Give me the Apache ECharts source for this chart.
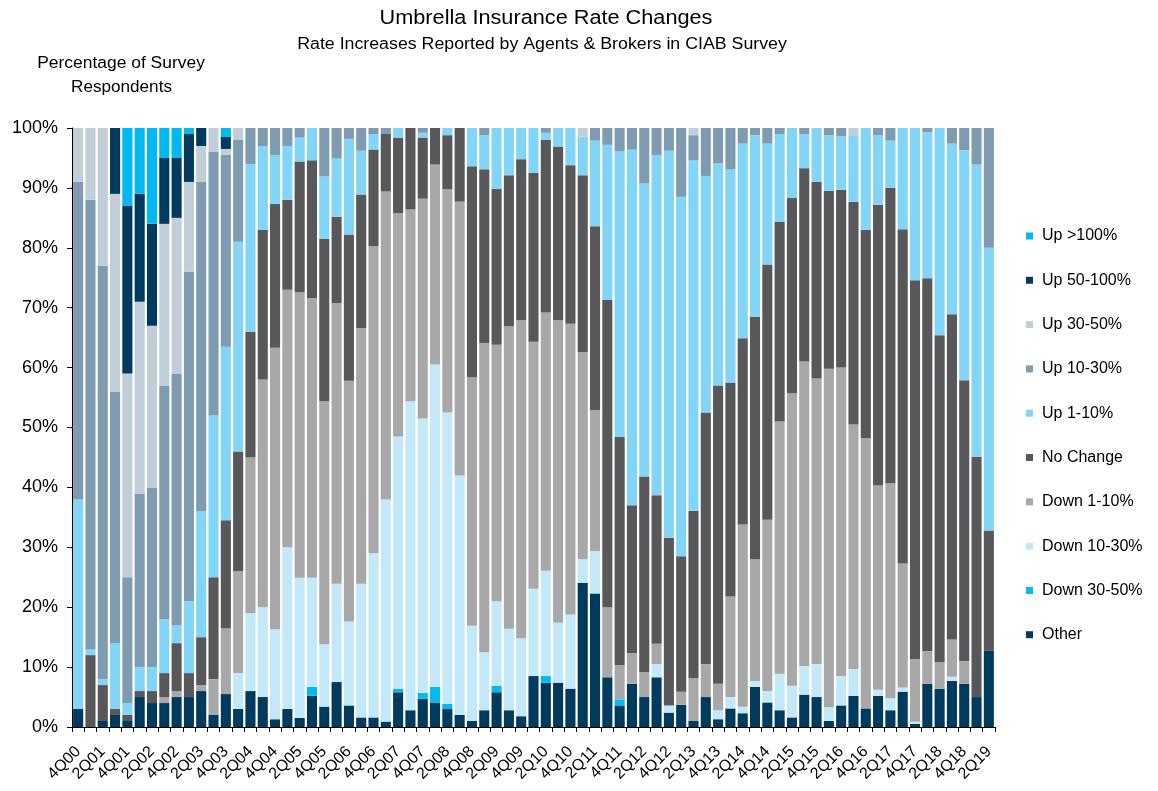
<!DOCTYPE html>
<html>
<head>
<meta charset="utf-8">
<script src="https://cdn.jsdelivr.net/npm/echarts@6/dist/echarts.min.js"></script>
<style>
  html, body { margin: 0; padding: 0; background: #ffffff; }
  #chart { width: 1158px; height: 791px; }
</style>
</head>
<body>
<div id="chart"></div>
<script>
// Survey quarters, 4Q00 through 2Q19
const quarters = (function () {
  const q = ['4Q00'];
  for (let y = 1; y <= 18; y++) {
    const yy = String(y).padStart(2, '0');
    for (let k = 1; k <= 4; k++) q.push(k + 'Q' + yy);
  }
  q.push('1Q19', '2Q19');
  return q;
})();

// Share of respondents (%) in each rate-change bucket, per quarter
const other = [3,0,1,2,1,5,4,4,5,5, 6,2,5.5,3,6,5,1.3,3,1.5,5.2, 3.4,7.5,3.6,1.6,1.6,0.9,5.8,2.8,4.7,4.1, 3,2,1,2.8,5.8,2.8,1.8,8.5,7.4,7.4, 6.4,24.1,22.3,8.3,3.6,7.2,5,8.3,2.4,3.7, 1,5,1.3,3.1,2.3,6.7,4.1,2.8,1.6,5.4, 5,1,3.6,5.2,3.1,5.2,2.8,5.9,0.5,7.2, 6.4,7.7,7.2,5,12.8];
const down3050 = [0,0,0,0,0,0,0,0,0,0, 0,0,0,0,0,0,0,0,0,1.5, 0,0,0,0,0,0,0.6,0,1,2.6, 0.9,0,0,0,1.1,0,0,0,1.1,0, 0,0,0,0,1,0,0,0,0,0, 0,0,0,0,0,0,0,0,0,0, 0,0,0,0,0,0,0,0,0,0, 0,0,0,0,0];
const down1030 = [0,0,0,0,0,0,0,0,0,0, 0,0,0,6,13,15,15,27,23.4,18.2, 10.4,16.4,14,22.3,27.4,37.1,42.1,51.6,45.8,53.8, 48.6,40,15.9,9.7,14.1,13.6,13,14.6,17.6,10, 12.4,3.9,7.1,0,0,0,0,2.2,1.2,0, 0,0,1.5,1.9,1.1,1,1.9,6.1,5.3,4.8, 5.5,2.3,4.9,4.5,0,1,2,0.7,0.4,0, 0,0.7,0,0,0];
const down110 = [0,0,0,0,0,0,0,1,1,0, 1,6,11,17,26,38,47,43,47.7,46.7, 40.6,46.9,40.2,42.7,51.3,51.4,37.3,32,36.7,33.4, 37.3,45.7,41.5,51.6,42.8,50.5,53.1,41.2,43.1,50.5, 48.5,34.6,23.5,11.7,5.7,5.1,4.2,3.4,0,2.2, 7.2,5.5,4.4,16.8,30.4,20.3,28.6,42.1,48.8,50.8, 47.7,56.5,51.5,40.8,45.1,34.1,35.9,20.7,10.4,5.5, 4.4,6.2,3.8,0,0];
const noChange = [0,12,6,1,1,1,2,4,8,4, 8,17,18,20,21,25,24,15,21.8,23, 27.1,14.4,24.4,22.3,16.1,9.6,12.6,13.6,10.2,6.1, 9,12.3,35.2,29,26,25.2,26.9,28.2,28.8,29, 26.5,29.5,30.7,51.3,38.1,24.7,32.6,24.8,28,22.6, 27.9,42,49.8,35.7,31.1,40.5,42.6,33.3,32.6,32.3, 32.8,29.7,29.7,37.2,34.8,46.9,49.3,55.8,63.3,62.2, 54.6,54.3,46.9,40.1,20];
const up110 = [35,1,1,11,2,4,4,9,3,12, 21,27,29,35,28,14,8.2,9,4,5.4, 10.4,9.7,16,7.3,2.6,0,1.6,0,0.8,0, 1.2,0,6.4,5.7,10.2,7.9,5.2,7.5,1.2,3.1, 6.2,6.5,14.3,25.9,47.7,59.4,49,56.8,64.6,60, 58.5,39.5,37.1,35.6,32.5,30.3,20.2,14.7,11.7,5.7, 9,9.3,8.9,11.1,17,11.6,7.9,16.9,25.4,24.4, 34.6,28.5,38.4,48.8,47.2];
const up1030 = [53,75,69,42,21,29,30,39,42,55, 55,44,32,17,6,3,4.5,3,1.6,0, 8.1,5.1,1.8,3.8,1,1,0,0,0.8,0, 0,0,0,1.2,0,0,0,0,0.8,0, 0,0,2.1,2.8,3.9,3.6,9.2,4.5,3.8,11.5, 4.2,8,5.9,6.9,2.6,1.2,2.6,1,0,1, 0,1.2,1.4,0,0,1.2,2.1,0,0,0.7, 0,2.6,3.7,6.1,20];
const up3050 = [9,12,23,33,34,32,27,27,26,15, 6,4,1,2,0,0,0,0,0,0, 0,0,0,0,0,0,0,0,0,0, 0,0,0,0,0,0,0,0,0,0, 0,1.4,0,0,0,0,0,0,0,0, 1.2,0,0,0,0,0,0,0,0,0, 0,0,0,1.2,0,0,0,0,0,0, 0,0,0,0,0];
const up50100 = [0,0,0,11,28,18,17,11,10,8, 3,0,2,0,0,0,0,0,0,0, 0,0,0,0,0,0,0,0,0,0, 0,0,0,0,0,0,0,0,0,0, 0,0,0,0,0,0,0,0,0,0, 0,0,0,0,0,0,0,0,0,0, 0,0,0,0,0,0,0,0,0,0, 0,0,0,0,0];
const up100 = [0,0,0,0,13,11,16,5,5,1, 0,0,1.5,0,0,0,0,0,0,0, 0,0,0,0,0,0,0,0,0,0, 0,0,0,0,0,0,0,0,0,0, 0,0,0,0,0,0,0,0,0,0, 0,0,0,0,0,0,0,0,0,0, 0,0,0,0,0,0,0,0,0,0, 0,0,0,0,0];

// Stack order, bottom to top
const seriesDefs = [
  { name: 'Other',       data: other,    color: '#003A5D' },
  { name: 'Down 30-50%', data: down3050, color: '#00BBF0' },
  { name: 'Down 10-30%', data: down1030, color: '#C3E9F8' },
  { name: 'Down 1-10%',  data: down110,  color: '#A8A8A8' },
  { name: 'No Change',   data: noChange, color: '#58585A' },
  { name: 'Up 1-10%',    data: up110,    color: '#82D5F6' },
  { name: 'Up 10-30%',   data: up1030,   color: '#7F9BB0' },
  { name: 'Up 30-50%',   data: up3050,   color: '#C1CED8' },
  { name: 'Up 50-100%',  data: up50100,  color: '#003A5F' },
  { name: 'Up >100%',    data: up100,    color: '#00B9F1' }
];

const FONT = '"Liberation Sans", Arial, sans-serif';

// Centered text block, slightly widened horizontally
function label(text, cx, cy, size, sx) {
  return {
    type: 'text', x: cx, y: cy, scaleX: sx, scaleY: 1,
    style: { text: text, x: 0, y: 0, align: 'center', verticalAlign: 'middle',
             font: size + 'px ' + FONT, fill: '#000' }
  };
}

const chart = echarts.init(document.getElementById('chart'), null, { renderer: 'canvas' });

chart.setOption({
  animation: false,
  backgroundColor: '#ffffff',
  textStyle: { fontFamily: FONT, color: '#000' },
  graphic: [
    label('Umbrella Insurance Rate Changes', 546, 18, 20, 1.085),
    label('Rate Increases Reported by Agents & Brokers in CIAB Survey', 542, 45, 16, 1.11),
    label('Percentage of Survey', 121, 64, 16, 1.09),
    label('Respondents', 121.5, 88, 16, 1.07)
  ],
  legend: {
    orient: 'vertical',
    left: 1026,
    top: 228,
    padding: 0,
    icon: 'rect',
    itemWidth: 7,
    itemHeight: 7,
    itemGap: 28.3,
    data: seriesDefs.map(s => s.name).reverse(),
    textStyle: { fontFamily: FONT, fontSize: 16, color: '#000', lineHeight: 16, padding: [0, 0, 0, 4] },
    selectedMode: false
  },
  grid: { left: 72, right: 163, top: 128, bottom: 64, containLabel: false },
  xAxis: {
    type: 'category',
    data: quarters,
    axisLine: { lineStyle: { color: '#000', width: 1 } },
    axisTick: { show: true, interval: 0, length: 5, lineStyle: { color: '#000' } },
    axisLabel: { interval: 1, rotate: 45, fontSize: 16, color: '#000', fontFamily: FONT, margin: 22 }
  },
  yAxis: {
    type: 'value',
    min: 0,
    max: 100,
    interval: 10,
    axisLine: { show: true, lineStyle: { color: '#000', width: 1 } },
    axisTick: { show: true, length: 5, lineStyle: { color: '#000' } },
    splitLine: { show: false },
    axisLabel: { formatter: '{value}%', fontSize: 18, color: '#000', fontFamily: FONT, margin: 14 }
  },
  series: seriesDefs.map(s => ({
    name: s.name,
    type: 'bar',
    stack: 'total',
    data: s.data,
    barCategoryGap: '18%',
    itemStyle: { color: s.color },
    emphasis: { disabled: true }
  }))
});
</script>
</body>
</html>
